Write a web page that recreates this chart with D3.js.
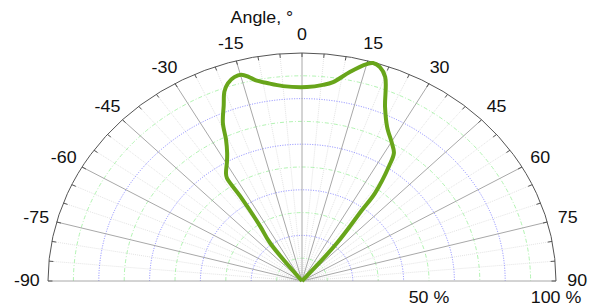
<!DOCTYPE html>
<html>
<head>
<meta charset="utf-8">
<title>Polar diagram</title>
<script src="https://d3js.org/d3.v7.min.js"></script>
<style>
  body { margin: 0; background: #fff; }
  text { font-family: Arial, "Liberation Sans", sans-serif; font-size: 16px; fill: #111; }
</style>
</head>
<body>
<div id="chart"></div>
<script>
// measured curve (angle in degrees, relative intensity in %)
const angleDeg = [-37, -37, -34.4, -33.2, -33.2, -32.3, -29.5, -27.7, -25.8, -24.2, -21.8, -20.2, -18.6, -16.6, -14.8,
  -13.2, -11.8, -9, -5, 1.3, 5.5, 8, 11.6, 15, 16.3, 18.1, 20.1, 23.2, 26.4, 30.3, 32.8, 34.2, 36.7, 37.2, 39.6, 41];
const intensity = [0, 21, 29.2, 44.6, 54, 56, 60, 63.4, 68.7, 76, 83, 88.5, 91.5, 93.3, 93.6,
  92, 90, 87.9, 85.8, 85.1, 86.4, 88.1, 93.6, 98.5, 99.6, 98.7, 95.3, 83, 75.4, 70.1, 66.8, 61, 48.1, 39.1, 21.6, 0];

const ringValues = [10, 20, 30, 40, 50, 60, 70, 80, 90];
const angleTicks = [-90, -75, -60, -45, -30, -15, 0, 15, 30, 45, 60, 75, 90];
const minorAngles = d3.range(-85, 90, 5).filter(a => a % 15 !== 0);
const radiusLabels = [50, 100];

const width = 592, height = 306;
const R = 228;          // vertical radius
const sx = 1.114;       // picture is stretched horizontally
const cx = 302, cy = 281;

const svg = d3.select("#chart").append("svg")
  .attr("width", width)
  .attr("height", height);

const g = svg.append("g")
  .attr("transform", "translate(" + cx + "," + cy + ") scale(" + sx + ",1)");

const r = d3.scaleLinear().domain([0, 100]).range([0, R]);
const rad = d => d * Math.PI / 180;

function halfCircle(radius) {
  const p = d3.path();
  p.moveTo(-radius, 0);
  p.arc(0, 0, radius, Math.PI, 2 * Math.PI);
  return p.toString();
}

// minor radial lines
g.selectAll(".minor")
  .data(minorAngles).enter()
  .append("line")
  .attr("x1", 0).attr("y1", 0)
  .attr("x2", d => r(100) * Math.sin(rad(d)))
  .attr("y2", d => -r(100) * Math.cos(rad(d)))
  .attr("stroke", "#dcdcdc")
  .attr("stroke-width", 0.8)
  .attr("stroke-dasharray", "1,1")
  .attr("vector-effect", "non-scaling-stroke");

// rings
g.selectAll(".ring")
  .data(ringValues).enter()
  .append("path")
  .attr("d", d => halfCircle(r(d)))
  .attr("fill", "none")
  .attr("stroke", d => (d / 10) % 2 === 1 ? "#9ef09e" : "#6a6aff")
  .attr("stroke-width", 0.8)
  .attr("stroke-dasharray", d => (d / 10) % 2 === 1 ? "4,2,1,2" : "1,1.5")
  .attr("vector-effect", "non-scaling-stroke");

// major radial lines
g.selectAll(".major")
  .data(angleTicks).enter()
  .append("line")
  .attr("x1", 0).attr("y1", 0)
  .attr("x2", d => r(100) * Math.sin(rad(d)))
  .attr("y2", d => -r(100) * Math.cos(rad(d)))
  .attr("stroke", "#a8a8a8")
  .attr("stroke-width", 1)
  .attr("vector-effect", "non-scaling-stroke");

// outer arc
g.append("path")
  .attr("d", halfCircle(r(100)))
  .attr("fill", "none")
  .attr("stroke", "#555")
  .attr("stroke-width", 1)
  .attr("vector-effect", "non-scaling-stroke");

// ticks on outer arc
g.selectAll(".tick")
  .data(angleTicks.concat(minorAngles)).enter()
  .append("line")
  .attr("x1", d => r(100) * Math.sin(rad(d)))
  .attr("y1", d => -r(100) * Math.cos(rad(d)))
  .attr("x2", d => (r(100) - 4) * Math.sin(rad(d)))
  .attr("y2", d => -(r(100) - 4) * Math.cos(rad(d)))
  .attr("stroke", "#555")
  .attr("stroke-width", 1)
  .attr("vector-effect", "non-scaling-stroke");

// curve
const pts = angleDeg.map((a, i) => ({ a: a, v: intensity[i] }));
const line = d3.lineRadial()
  .angle(d => rad(d.a))
  .radius(d => r(d.v))
  .curve(d3.curveCatmullRom.alpha(0.5));

g.append("path")
  .datum(pts)
  .attr("d", line)
  .attr("fill", "none")
  .attr("stroke", "#68a51a")
  .attr("stroke-width", 4)
  .attr("stroke-linejoin", "round")
  .attr("vector-effect", "non-scaling-stroke");

// angle labels
g.selectAll(".alabel")
  .data(angleTicks).enter()
  .append("text")
  .attr("x", d => 247 * Math.sin(rad(d)))
  .attr("y", d => -246 * Math.cos(rad(d)))
  .attr("text-anchor", "middle")
  .attr("dominant-baseline", "central")
  .text(d => d);

// radius labels
g.selectAll(".rlabel")
  .data(radiusLabels).enter()
  .append("text")
  .attr("x", d => r(d))
  .attr("y", 22)
  .attr("text-anchor", "middle")
  .text(d => d + " %");

g.append("text")
  .attr("x", -36)
  .attr("y", -258)
  .attr("text-anchor", "middle")
  .text("Angle, °");
</script>
</body>
</html>
